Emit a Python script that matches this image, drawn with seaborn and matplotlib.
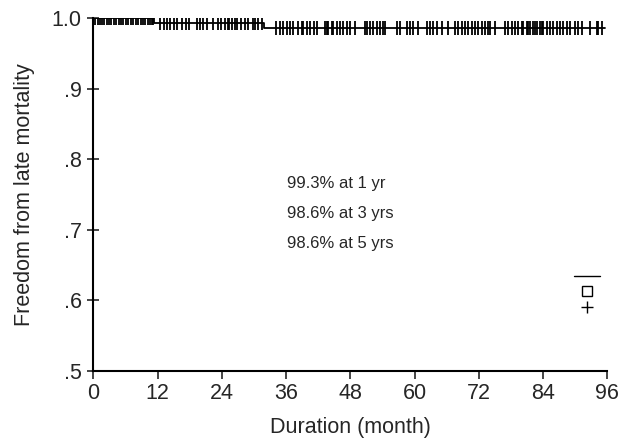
import numpy as np
import pandas as pd
import matplotlib
matplotlib.use('Agg')
import matplotlib.pyplot as plt
from matplotlib.lines import Line2D
import seaborn as sns

# ---------- DATA ----------
# Kaplan-Meier steps (month, survival)
step_times = [0, 11.4, 31.8, 95.5]
step_surv = [1.0, 0.993, 0.986, 0.986]

# censored observations (month)
censor_times = [
    0.3, 0.8, 1.2, 1.6, 2.0, 2.5, 2.9, 3.3, 3.8, 4.3, 4.7, 5.2, 5.6, 6.1,
    6.5, 7.0, 7.4, 7.9, 8.3, 8.8, 9.2, 9.7, 10.1, 10.5, 10.9, 11.2,
    12.4, 13.1, 13.7, 14.3, 15.0, 15.7, 16.6, 17.2, 17.9,
    19.3, 19.9, 20.4, 21.3, 22.3, 23.2, 23.9, 24.5, 25.1, 25.4, 25.8, 26.4,
    26.9, 27.6, 28.3, 28.8, 29.8, 30.1, 30.7, 31.4,
    34.2, 34.8, 35.4, 36.1, 36.7, 37.3, 38.2, 38.9,
    39.1, 39.9, 40.4, 41.3, 41.7, 43.2, 43.6, 43.8, 44.5, 44.7, 45.5, 46.0,
    46.6, 47.3, 47.9, 48.8, 50.7, 51.1, 51.6, 52.2, 53.0, 53.5, 54.1, 54.5,
    56.7, 57.3, 58.6,
    59.1, 59.7, 60.6, 62.3, 62.9, 63.4, 64.2, 65.1, 66.2, 67.6, 68.1, 68.9,
    69.4, 70.0, 70.7, 71.3, 71.9, 72.6, 73.2, 73.8, 74.1, 75.0, 76.9, 77.5,
    78.2, 78.8, 79.3, 80.1, 80.3, 81.0, 81.2, 81.6, 82.1, 82.5, 82.9, 83.5,
    83.8, 84.0, 84.8, 85.3, 85.9, 86.6, 87.2, 87.8, 88.5, 89.1, 90.0, 90.6,
    91.3, 92.8, 94.1, 94.3, 95.1,
]

x_ticks = [0, 12, 24, 36, 48, 60, 72, 84, 96]
y_ticks = [0.5, 0.6, 0.7, 0.8, 0.9, 1.0]
y_tick_labels = ['.5', '.6', '.7', '.8', '.9', '1.0']

notes = ['99.3% at 1 yr', '98.6% at 3 yrs', '98.6% at 5 yrs']
note_y = [0.765, 0.723, 0.681]

# survival value at each censor time (step lookup)
idx = np.searchsorted(step_times, censor_times, side='right') - 1
censor_surv = np.array(step_surv)[idx]

km = pd.DataFrame({'time': step_times, 'surv': step_surv})
cens = pd.DataFrame({'time': censor_times, 'surv': censor_surv})

# ---------- PLOT ----------
sns.set_theme(style='white')
plt.rcParams['font.family'] = ['Liberation Sans', 'DejaVu Sans']

fig = plt.figure(figsize=(6.19, 4.38), dpi=100)
ax = fig.add_axes([0.151, 0.153, 0.830, 0.806])

sns.lineplot(data=km, x='time', y='surv', drawstyle='steps-post',
             color='black', lw=1.3, ax=ax)
sns.scatterplot(data=cens, x='time', y='surv', marker='|', s=90,
                color='black', linewidth=1.3, ax=ax, zorder=3)

for txt, yv in zip(notes, note_y):
    ax.text(36.2, yv, txt, fontsize=12, va='center', ha='left')

handles = [Line2D([], [], color='black', lw=1),
           Line2D([], [], ls='none', marker='s', markerfacecolor='white',
                  markeredgecolor='black', markersize=7),
           Line2D([], [], ls='none', marker='+', color='black', markersize=8)]
ax.legend(handles, ['', '', ''], loc='lower right',
          bbox_to_anchor=(1.013, 0.119), frameon=False,
          handlelength=1.7, handletextpad=0, labelspacing=0.1)

ax.set_xlim(0, 96)
ax.set_ylim(0.5, 1.0)
ax.set_xticks(x_ticks)
ax.set_yticks(y_ticks)
ax.set_yticklabels(y_tick_labels)
ax.set_xlabel('Duration (month)', fontsize=15.5, labelpad=9)
ax.set_ylabel('Freedom from late mortality', fontsize=15.5, labelpad=12)

ax.tick_params(axis='x', direction='out', length=6, width=1.2,
               labelsize=15.5, pad=3, bottom=True)
ax.tick_params(axis='y', direction='inout', length=9, width=1.2,
               labelsize=15.5, pad=4, left=True)

sns.despine(ax=ax)
for s in ['left', 'bottom']:
    ax.spines[s].set_color('black')
    ax.spines[s].set_linewidth(1.5)

fig.savefig('out.png', dpi=100)
